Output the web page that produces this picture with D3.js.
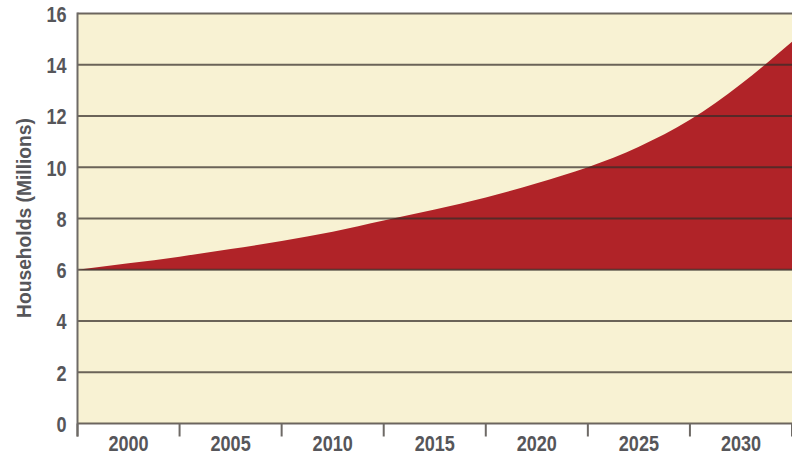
<!DOCTYPE html>
<html>
<head>
<meta charset="utf-8">
<script src="https://cdn.jsdelivr.net/npm/d3@7/dist/d3.min.js"></script>
<style>
  html, body { margin: 0; padding: 0; background: #ffffff; }
  svg { display: block; }
  text { font-family: "Liberation Sans", Arial, sans-serif; font-weight: bold; fill: #56565a; }
</style>
</head>
<body>
<svg id="chart" width="792" height="454"></svg>
<script>
// Projected households, in millions, sampled every 2.5 years
const years = [1997.5, 2000, 2002.5, 2005, 2007.5, 2010, 2012.5, 2015, 2017.5, 2020, 2022.5, 2025, 2027.5, 2030, 2032.5];
const households = [6.0, 6.25, 6.51, 6.81, 7.12, 7.48, 7.92, 8.35, 8.82, 9.38, 10.0, 10.8, 11.85, 13.25, 14.9];
const baseline = 6;

// Axis labels
const yearLabels = [2000, 2005, 2010, 2015, 2020, 2025, 2030];
const yTicks = [0, 2, 4, 6, 8, 10, 12, 14, 16];
const yTitle = "Households (Millions)";

const plotLeft = 77.5, plotRight = 792, plotTop = 13.5, plotBottom = 423.5;

const svg = d3.select("#chart");

const x = d3.scaleLinear().domain([1997.5, 2032.5]).range([plotLeft, plotRight]);
const y = d3.scaleLinear().domain([0, 16]).range([plotBottom, plotTop]);

// Narrow the bold sans glyphs to a condensed look
function condense(sel, factor) {
  sel.each(function () {
    const w = this.getComputedTextLength();
    d3.select(this).attr("textLength", w * factor).attr("lengthAdjust", "spacingAndGlyphs");
  });
}

// Plot background
svg.append("rect")
  .attr("x", plotLeft).attr("y", plotTop)
  .attr("width", plotRight - plotLeft).attr("height", plotBottom - plotTop)
  .attr("fill", "#f8f2d3");

// Growth area above the baseline
const data = years.map((yr, i) => ({ yr, v: households[i] }));
const area = d3.area()
  .x(d => x(d.yr))
  .y0(y(baseline))
  .y1(d => y(d.v))
  .curve(d3.curveMonotoneX);

svg.append("path")
  .datum(data)
  .attr("d", area)
  .attr("fill", "#b02328");

// Horizontal gridlines, drawn over the area
svg.append("g")
  .selectAll("line")
  .data(yTicks)
  .join("line")
  .attr("x1", plotLeft).attr("x2", plotRight)
  .attr("y1", d => y(d)).attr("y2", d => y(d))
  .attr("stroke", "rgba(52,44,40,0.72)")
  .attr("stroke-width", 2);

// Left border of the plot
svg.append("line")
  .attr("x1", plotLeft).attr("x2", plotLeft)
  .attr("y1", plotTop - 1).attr("y2", plotBottom + 13)
  .attr("stroke", "#6e6a66").attr("stroke-width", 2);

// Y axis tick labels
const yAxis = d3.axisLeft(y).tickValues(yTicks).tickSize(0).tickPadding(11);
const gy = svg.append("g").attr("transform", `translate(${plotLeft},0)`).call(yAxis);
gy.select(".domain").remove();
gy.attr("font-family", null).attr("font-size", null);
gy.selectAll("text")
  .attr("font-size", 22)
  .attr("fill", null)
  .attr("dy", "0.36em")
  .call(condense, 0.82);

// X axis: band boundaries as ticks, year labels centred in each band
const bounds = d3.range(1997.5, 2033, 5);
const gx = svg.append("g");
gx.selectAll("line")
  .data(bounds)
  .join("line")
  .attr("x1", d => x(d)).attr("x2", d => x(d))
  .attr("y1", plotBottom).attr("y2", plotBottom + 13)
  .attr("stroke", "#6e6a66").attr("stroke-width", 2);
gx.selectAll("text")
  .data(yearLabels)
  .join("text")
  .attr("x", d => x(d))
  .attr("y", 450.5)
  .attr("text-anchor", "middle")
  .attr("font-size", 22)
  .text(d => d)
  .call(condense, 0.82);

// Y axis title
svg.append("text")
  .attr("transform", "translate(30.5,218) rotate(-90)")
  .attr("text-anchor", "middle")
  .attr("font-size", 21)
  .text(yTitle)
  .attr("textLength", 200)
  .attr("lengthAdjust", "spacingAndGlyphs");
</script>
</body>
</html>
